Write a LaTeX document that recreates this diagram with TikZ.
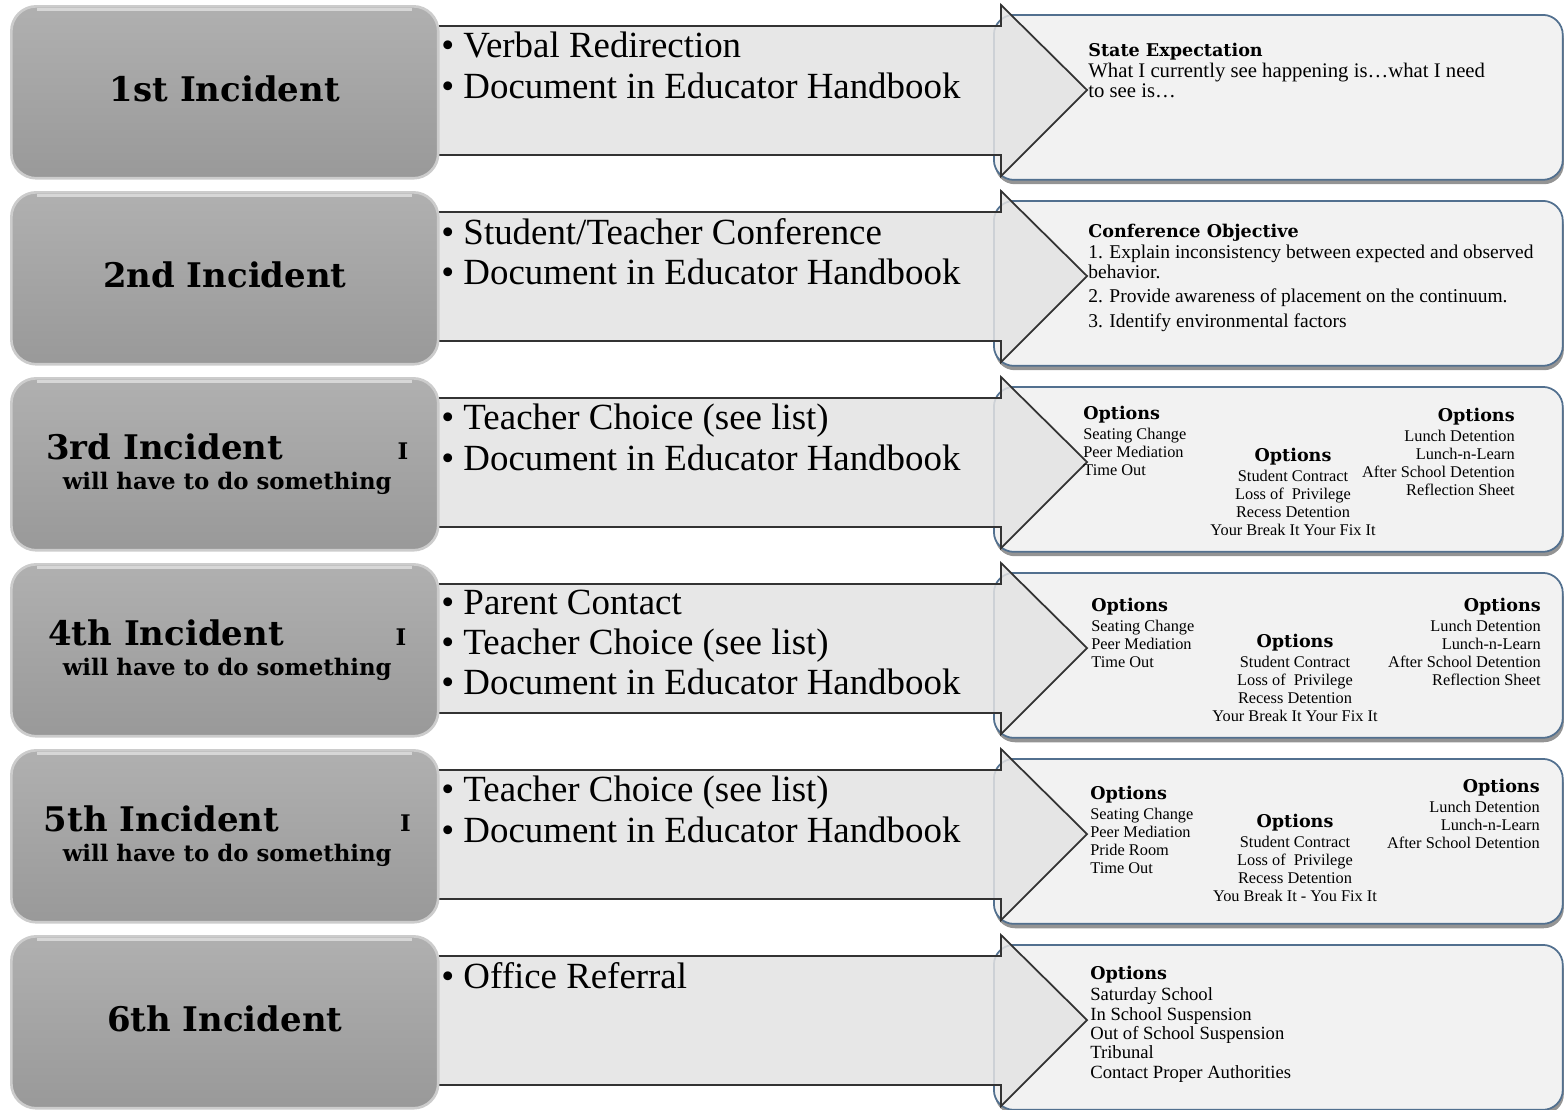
\documentclass[tikz,border=0pt]{standalone}
\usepackage{fontspec}
\setmainfont{Liberation Serif}
\newfontfamily\headfont{DejaVu Serif}
\usetikzlibrary{shadows}
\definecolor{rim}{HTML}{52708F}
\tikzset{
  inc/.style={rectangle, rounded corners=0.5cm, draw=gray!40, line width=1.5pt, top color=gray!62, bottom color=gray!80, minimum width=8.54cm, minimum height=3.44cm, anchor=north west},
  opt/.style={rectangle, rounded corners=0.4cm, draw=rim, line width=1pt, fill=gray!10, minimum width=11.38cm, minimum height=3.3cm, anchor=north west, drop shadow={shadow xshift=0.6pt, shadow yshift=-2.5pt, fill=black!70, opacity=.6}},
  lab/.style={font=\headfont\bfseries\fontsize{19.3}{22}\selectfont, align=center, inner sep=0pt},
  act/.style={font=\fontsize{21}{22.8}\selectfont, align=left, anchor=north west, inner sep=0pt},
  txt/.style={font=\fontsize{11.8}{11}\selectfont, align=left, anchor=north west, inner sep=0pt},
  lst/.style={font=\fontsize{9.3}{10.2}\selectfont, inner sep=0pt, anchor=north}
}
\tikzstyle{band} = [draw=black!80, line width=1pt, fill=gray!22, fill opacity=.85, line join=miter]
\newcommand{\hd}[1]{{\headfont\bfseries\fontsize{10}{11}\selectfont #1}}
\newcommand{\sm}[1]{{\fontsize{13}{14}\selectfont #1}}

\begin{document}
\begin{tikzpicture}[x=0.02cm, y=-0.02cm]
    \useasboundingbox (0,0) rectangle (1568,1109);

    % one row per incident: options box, arrow band, incident box
    \foreach \i/\t in {1/5,2/191,3/377,4/563,5/749,6/935}{
        \node [opt] (opt\i) at (993,\t+9) {};
        \draw [band] (420,\t+21) -- (1001,\t+21) -- (1001,\t) -- (1087,\t+85) -- (1001,\t+171) -- (1001,\t+150) -- (420,\t+150);
        \node [inc] (inc\i) at (10,\t) {};
        \draw [white, opacity=.5, line width=1.2pt] ([xshift=0.55cm,yshift=-0.09cm]inc\i.north west) -- ([xshift=-0.55cm,yshift=-0.09cm]inc\i.north east);
    }

    % incident labels
    \node [lab] (lab1) at ([yshift=0.06cm]inc1.center) {1st Incident};
    \node [lab] (lab2) at ([yshift=0.06cm]inc2.center) {2nd Incident};
    \node [lab] (lab3) at ([xshift=0.05cm]inc3.center) {\makebox[7.24cm]{3rd Incident\hfill\sm{I}}\\[-5pt] \sm{will have to do something}};
    \node [lab] (lab4) at ([xshift=0.05cm]inc4.center) {\makebox[7.16cm]{4th Incident\hfill\sm{I}}\\[-5pt] \sm{will have to do something}};
    \node [lab] (lab5) at ([xshift=0.05cm]inc5.center) {\makebox[7.34cm]{5th Incident\hfill\sm{I}}\\[-5pt] \sm{will have to do something}};
    \node [lab] (lab6) at ([yshift=0.06cm]inc6.center) {6th Incident};

    % steps on the arrows
    \node [act] (act1) at (441,32) {\textbullet{} Verbal Redirection\\ \textbullet{} Document in Educator Handbook};
    \node [act] (act2) at (441,218) {\textbullet{} Student/Teacher Conference\\ \textbullet{} Document in Educator Handbook};
    \node [act] (act3) at (441,404) {\textbullet{} Teacher Choice (see list)\\ \textbullet{} Document in Educator Handbook};
    \node [act] (act4) at (441,590) {\textbullet{} Parent Contact\\ \textbullet{} Teacher Choice (see list)\\ \textbullet{} Document in Educator Handbook};
    \node [act] (act5) at (441,776) {\textbullet{} Teacher Choice (see list)\\ \textbullet{} Document in Educator Handbook};
    \node [act] (act6) at (441,962) {\textbullet{} Office Referral};

    % what to do
    \node [txt] (obj1) at (1088,43) {\hd{State Expectation}\\[1pt] What I currently see happening is…what I need\\ to see is…};
    \node [txt, font=\fontsize{11.1}{11}\selectfont] (obj2) at (1088,224) {\hd{Conference Objective}\\[1pt] 1. Explain inconsistency between expected and observed\\ behavior.\\[3pt] 2. Provide awareness of placement on the continuum.\\[3pt] 3. Identify environmental factors};

    \node [lst, anchor=north west, align=left] (o3a) at (1083,406) {\hd{Options}\\[1pt] Seating Change\\ Peer Mediation\\ Time Out};
    \node [lst, align=center] (o3b) at (1293,448) {\hd{Options}\\[1pt] Student Contract\\ Loss of~ Privilege\\ Recess Detention\\ Your Break It Your Fix It};
    \node [lst, anchor=north east, align=right] (o3c) at (1515,408) {\hd{Options}\\[1pt] Lunch Detention\\ Lunch-n-Learn\\ After School Detention\\ Reflection Sheet};

    \node [lst, anchor=north west, align=left] (o4a) at (1091,598) {\hd{Options}\\[1pt] Seating Change\\ Peer Mediation\\ Time Out};
    \node [lst, align=center] (o4b) at (1295,634) {\hd{Options}\\[1pt] Student Contract\\ Loss of~ Privilege\\ Recess Detention\\ Your Break It Your Fix It};
    \node [lst, anchor=north east, align=right] (o4c) at (1541,598) {\hd{Options}\\[1pt] Lunch Detention\\ Lunch-n-Learn\\ After School Detention\\ Reflection Sheet};

    \node [lst, anchor=north west, align=left] (o5a) at (1090,786) {\hd{Options}\\[1pt] Seating Change\\ Peer Mediation\\ Pride Room\\ Time Out};
    \node [lst, align=center] (o5b) at (1295,814) {\hd{Options}\\[1pt] Student Contract\\ Loss of~ Privilege\\ Recess Detention\\ You Break It - You Fix It};
    \node [lst, anchor=north east, align=right] (o5c) at (1540,779) {\hd{Options}\\[1pt] Lunch Detention\\ Lunch-n-Learn\\ After School Detention};

    \node [lst, anchor=north west, align=left, font=\fontsize{10.6}{11}\selectfont] (o6a) at (1090,966) {\hd{Options}\\[1pt] Saturday School\\ In School Suspension\\ Out of School Suspension\\ Tribunal\\ Contact Proper Authorities};
\end{tikzpicture}
\end{document}
